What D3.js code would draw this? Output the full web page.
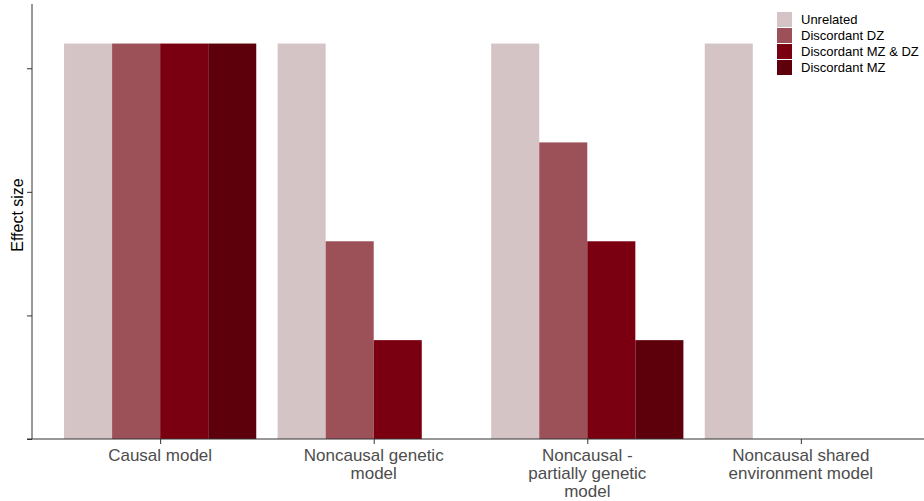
<!DOCTYPE html>
<html>
<head>
<meta charset="utf-8">
<script src="https://cdn.jsdelivr.net/npm/d3@7"></script>
<style>
  body { margin: 0; background: #fff; }
  text { font-family: "Liberation Sans", Arial, sans-serif; }
</style>
</head>
<body>
<svg id="chart" width="924" height="501"></svg>
<script>
// Categories (x), series (dodged bars) and values.
var categories = [
  ['Causal model'],
  ['Noncausal genetic', 'model'],
  ['Noncausal -', 'partially genetic', 'model'],
  ['Noncausal shared', 'environment model']
];
var series = ['Unrelated', 'Discordant DZ', 'Discordant MZ & DZ', 'Discordant MZ'];
var seriesColors = ['#d5c4c6', '#9c5158', '#7a0011', '#5d000b'];
var unrelated = [0.32, 0.32, 0.32, 0.32];
var discordantDZ = [0.32, 0.16, 0.24, 0];
var discordantMZDZ = [0.32, 0.08, 0.16, 0];
var discordantMZ = [0.32, 0, 0.08, 0];
var yTicks = [0, 0.1, 0.2, 0.3];

var values = [unrelated, discordantDZ, discordantMZDZ, discordantMZ];

var svg = d3.select('#chart');
var plotLeft = 32, plotRight = 929, plotTop = 4, plotBottom = 439;

// continuous x like ggplot's discrete scale (expand 0.6 each side)
var x = d3.scaleLinear().domain([0.4, categories.length + 0.6]).range([plotLeft, plotRight]);
var y = d3.scaleLinear().domain([0, 0.352]).range([plotBottom, plotTop]);

var groupWidth = 0.9;
var barWidth = groupWidth / series.length;

// bars
series.forEach(function(s, si) {
  svg.append('g')
    .selectAll('rect')
    .data(values[si])
    .enter().append('rect')
      .attr('x', function(d, i) { return x(i + 1 - groupWidth / 2 + si * barWidth); })
      .attr('width', x(barWidth) - x(0))
      .attr('y', function(d) { return y(d); })
      .attr('height', function(d) { return y(0) - y(d); })
      .attr('fill', seriesColors[si]);
});

// y axis: ticks, no labels
var yAxis = svg.append('g')
  .attr('transform', 'translate(' + plotLeft + ',0)')
  .call(d3.axisLeft(y).tickValues(yTicks).tickSize(5).tickFormat(''));
yAxis.select('.domain').attr('d', 'M0,' + plotTop + 'V' + plotBottom).attr('stroke', '#333');
yAxis.selectAll('.tick line').attr('stroke', '#333');

// x axis
var xAxis = svg.append('g')
  .attr('transform', 'translate(0,' + plotBottom + ')')
  .call(d3.axisBottom(x).tickValues(d3.range(1, categories.length + 1)).tickSize(5).tickFormat(''));
xAxis.select('.domain').attr('d', 'M' + (plotLeft - 5) + ',0H924').attr('stroke', '#333');
xAxis.selectAll('.tick line').attr('stroke', '#333');

// x labels (multi-line)
var xl = svg.append('g').selectAll('text')
  .data(categories)
  .enter().append('text')
    .attr('x', function(d, i) { return x(i + 1); })
    .attr('y', 461)
    .attr('text-anchor', 'middle')
    .attr('font-size', 17)
    .attr('fill', '#4d4d4d');
xl.selectAll('tspan')
  .data(function(d) { return d; })
  .enter().append('tspan')
    .attr('x', function() { return this.parentNode.getAttribute('x'); })
    .attr('dy', function(d, i) { return i ? 18 : 0; })
    .text(function(d) { return d; });

// y title
svg.append('text')
  .attr('transform', 'translate(23,215) rotate(-90)')
  .attr('text-anchor', 'middle')
  .attr('font-size', 16)
  .attr('fill', '#000')
  .text('Effect size');

// legend
var legend = svg.append('g').attr('transform', 'translate(777,12)');
var item = legend.selectAll('g')
  .data(series)
  .enter().append('g')
    .attr('transform', function(d, i) { return 'translate(0,' + (i * 16) + ')'; });
item.append('rect')
  .attr('width', 15)
  .attr('height', 15)
  .attr('fill', function(d, i) { return seriesColors[i]; });
item.append('text')
  .attr('x', 24)
  .attr('y', 12)
  .attr('font-size', 13)
  .attr('fill', '#000')
  .text(function(d) { return d; });
</script>
</body>
</html>
